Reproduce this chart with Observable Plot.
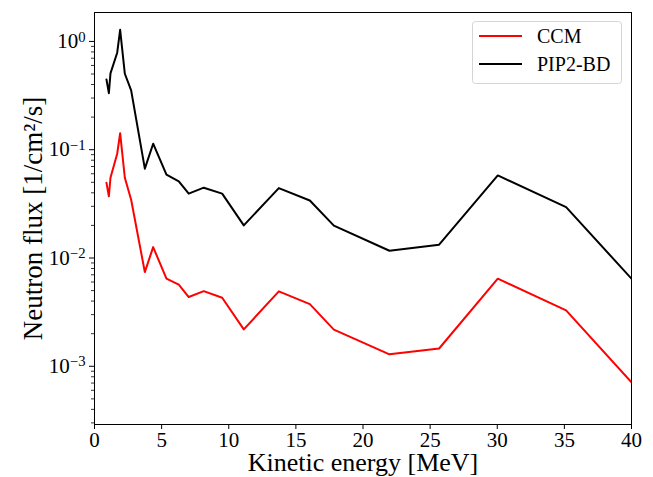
<!DOCTYPE html>
<html>
<head>
<meta charset="utf-8">
<script src="https://cdn.jsdelivr.net/npm/d3@7"></script>
<script src="https://cdn.jsdelivr.net/npm/@observablehq/plot@0.6"></script>
<style>
  html, body { margin: 0; padding: 0; background: white; }
  #chart svg { display: block; }
</style>
</head>
<body>
<div id="chart"></div>
<script>
// ---- data ----
const energy = [0.89, 1.07, 1.19, 1.69, 1.91, 2.26, 2.73, 3.75, 4.37, 5.36, 6.28, 7.02, 8.14, 9.51, 11.12, 13.73, 16.04, 17.83, 21.97, 25.67, 30.04, 35.13, 40];
const pip2Flux = [0.446, 0.333, 0.507, 0.787, 1.28, 0.503, 0.353, 0.0668, 0.1136, 0.0588, 0.0510, 0.0393, 0.0446, 0.0393, 0.0200, 0.0442, 0.0340, 0.0199, 0.01167, 0.01327, 0.0579, 0.0295, 0.00644];
const ccmFlux = [0.0496, 0.0371, 0.0551, 0.0918, 0.142, 0.0551, 0.0345, 0.00741, 0.01261, 0.00644, 0.00567, 0.00436, 0.00494, 0.0043, 0.00219, 0.00492, 0.00375, 0.00218, 0.00129, 0.00146, 0.00644, 0.00328, 0.00071];
const seriesNames = ["CCM", "PIP2-BD"];
const seriesColors = ["red", "black"];
const xTicks = [0, 5, 10, 15, 20, 25, 30, 35, 40];
const yMajorTicks = [1e-3, 1e-2, 1e-1, 1];
const yMinorTicks = [3e-4, 4e-4, 5e-4, 6e-4, 7e-4, 8e-4, 9e-4,
  2e-3, 3e-3, 4e-3, 5e-3, 6e-3, 7e-3, 8e-3, 9e-3,
  2e-2, 3e-2, 4e-2, 5e-2, 6e-2, 7e-2, 8e-2, 9e-2,
  2e-1, 3e-1, 4e-1, 5e-1, 6e-1, 7e-1, 8e-1, 9e-1];
const xLabel = "Kinetic energy [MeV]";
const yLabel = "Neutron flux [1/cm²/s]";

const ccm = energy.map((e, i) => ({energy: e, flux: ccmFlux[i], series: seriesNames[0]}));
const pip2 = energy.map((e, i) => ({energy: e, flux: pip2Flux[i], series: seriesNames[1]}));

const FONT = "'Liberation Serif', 'DejaVu Serif', serif";

const chart = Plot.plot({
  width: 653,
  height: 477,
  marginLeft: 94,
  marginRight: 22,
  marginTop: 12,
  marginBottom: 53,
  style: {fontFamily: FONT, fontSize: "21px", background: "white", color: "black"},
  x: {domain: [0, 40]},
  y: {type: "log", domain: [2.9e-4, 1.85]},
  marks: [
    Plot.line(ccm, {x: "energy", y: "flux", stroke: seriesColors[0], strokeWidth: 2, clip: true}),
    Plot.line(pip2, {x: "energy", y: "flux", stroke: seriesColors[1], strokeWidth: 2, clip: true}),
    Plot.frame({stroke: "black", strokeWidth: 1}),
    Plot.axisX({ticks: xTicks, tickSize: 5, tickPadding: 3, tickFormat: d => String(d), label: null, fontSize: 21}),
    Plot.axisY({ticks: yMinorTicks, tickSize: 3, tickFormat: () => "", label: null, strokeWidth: 0.8}),
    Plot.axisY({ticks: yMajorTicks, tickSize: 5, tickPadding: 4,
      tickFormat: d => "10^" + Math.round(Math.log10(d)), label: null, fontSize: 21}),
    Plot.text([xLabel], {frameAnchor: "bottom", dy: 38, text: d => d, fontSize: 26, fontFamily: FONT,
      textAnchor: "middle", lineAnchor: "middle"}),
    Plot.text([yLabel], {frameAnchor: "left", dx: -61, rotate: -90, text: d => d, fontSize: 27, fontFamily: FONT,
      textAnchor: "middle", lineAnchor: "middle"})
  ]
});

// superscript exponents on the log tick labels
d3.select(chart).selectAll("text").each(function() {
  const t = this.textContent;
  const m = /^10\^(-?\d+)$/.exec(t);
  if (m) {
    const sel = d3.select(this);
    sel.text(null);
    sel.append("tspan").text("10");
    sel.append("tspan").attr("dy", "-0.45em").attr("font-size", "0.7em")
      .text(m[1].replace("-", "\u2212"));
  }
});

// legend (upper right)
const svg = d3.select(chart);
const lg = svg.append("g").attr("font-family", FONT).attr("font-size", 20).attr("text-anchor", "start");
lg.append("rect").attr("x", 472.5).attr("y", 21.5).attr("width", 149).attr("height", 62)
  .attr("rx", 3).attr("fill", "white").attr("fill-opacity", 0.8).attr("stroke", "#d5d5d5");
seriesNames.forEach((name, i) => {
  const cy = 36 + i * 28;
  lg.append("line").attr("x1", 479).attr("x2", 522).attr("y1", cy).attr("y2", cy)
    .attr("stroke", seriesColors[i]).attr("stroke-width", 2);
  lg.append("text").attr("x", 537).attr("y", cy).attr("dy", "0.35em").attr("text-anchor", "start").text(name);
});

document.getElementById("chart").appendChild(chart);
</script>
</body>
</html>
